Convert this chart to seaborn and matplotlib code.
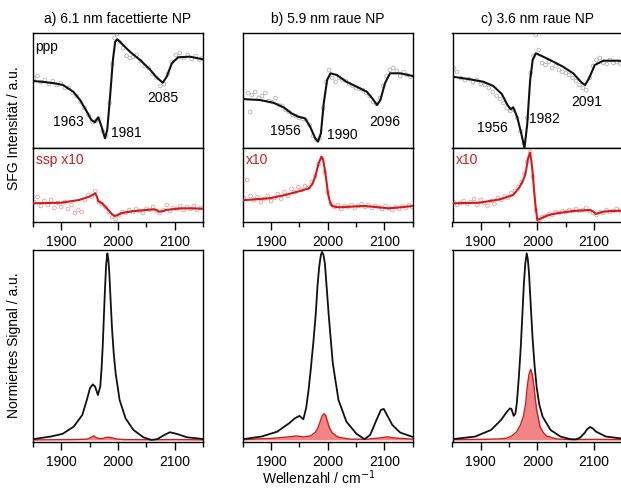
import numpy as np
import pandas as pd
import matplotlib
matplotlib.use("Agg")
import matplotlib.pyplot as plt
import seaborn as sns

# ---------------- data (wavenumber in cm^-1, intensities in a.u.) ----------------
titles = ["a) 6.1 nm facettierte NP", "b) 5.9 nm raue NP", "c) 3.6 nm raue NP"]
ssp_labels = ["ssp x10", "x10", "x10"]

# ppp fit curves
ppp_fit_x_a = [1850, 1870, 1890, 1903, 1921, 1933, 1945, 1953, 1959, 1965, 1971, 1977, 1981, 1986, 1991, 1995, 1999, 2006, 2021, 2039, 2056, 2068, 2079, 2086, 2095, 2106, 2127, 2150]
ppp_fit_y_a = [0.67, 0.66, 0.645, 0.63, 0.563, 0.48, 0.363, 0.28, 0.257, 0.307, 0.213, 0.097, 0.18, 0.513, 0.88, 1.063, 1.087, 1.047, 0.963, 0.88, 0.787, 0.707, 0.653, 0.713, 0.847, 0.907, 0.913, 0.887]
ppp_fit_x_b = [1850, 1857, 1880, 1904, 1922, 1936, 1948, 1960, 1969, 1978, 1983, 1988, 1993, 1999, 2005, 2016, 2033, 2051, 2069, 2080, 2087, 2093, 2101, 2110, 2128, 2150]
ppp_fit_y_b = [0.49, 0.487, 0.48, 0.453, 0.407, 0.347, 0.313, 0.297, 0.213, 0.097, 0.063, 0.147, 0.447, 0.68, 0.747, 0.73, 0.663, 0.613, 0.563, 0.487, 0.43, 0.48, 0.647, 0.747, 0.747, 0.72]
ppp_fit_x_c = [1850, 1881, 1904, 1922, 1937, 1947, 1953, 1957, 1964, 1972, 1977, 1982, 1987, 1991.5, 1997, 2010, 2028, 2045, 2063, 2078, 2084, 2091, 2101, 2116, 2140, 2150]
ppp_fit_y_c = [0.713, 0.687, 0.663, 0.62, 0.54, 0.43, 0.387, 0.407, 0.313, 0.13, 0.0, 0.247, 0.68, 0.88, 0.947, 0.913, 0.863, 0.813, 0.747, 0.653, 0.63, 0.697, 0.83, 0.873, 0.873, 0.87]

# ppp measured points
ppp_pts_x_a = [1852, 1858, 1864, 1871, 1878, 1885, 1892, 1899, 1906, 1913, 1920, 1927, 1934, 1941, 1948, 1955, 1961, 1967, 1973, 1979, 1985, 1990, 1994, 1998, 2003, 2009, 2015, 2021, 2027, 2033, 2040, 2047, 2054, 2061, 2068, 2075, 2081, 2088, 2095, 2102, 2109, 2116, 2123, 2130, 2137, 2144, 2149]
ppp_pts_y_a = [0.70, 0.72, 0.66, 0.68, 0.64, 0.67, 0.63, 0.65, 0.60, 0.60, 0.55, 0.52, 0.46, 0.40, 0.33, 0.26, 0.27, 0.29, 0.17, 0.12, 0.45, 0.84, 1.10, 1.14, 1.06, 1.00, 0.92, 0.90, 0.91, 0.93, 0.87, 0.82, 0.80, 0.74, 0.70, 0.62, 0.64, 0.74, 0.86, 0.93, 0.95, 0.90, 0.93, 0.89, 0.92, 0.88, 0.90]
ppp_pts_x_b = [1860, 1863, 1866, 1872, 1878, 1884, 1890, 1896, 1902, 1908, 1914, 1920, 1926, 1932, 1938, 1944, 1950, 1956, 1962, 1968, 1974, 1980, 1986, 1992, 1997, 2002, 2008, 2014, 2020, 2026, 2032, 2038, 2044, 2050, 2056, 2062, 2068, 2074, 2080, 2086, 2092, 2098, 2104, 2110, 2116, 2122, 2128, 2134, 2140, 2146]
ppp_pts_y_b = [0.55, 0.36, 0.53, 0.56, 0.50, 0.52, 0.55, 0.47, 0.46, 0.50, 0.43, 0.42, 0.38, 0.36, 0.33, 0.32, 0.30, 0.29, 0.28, 0.23, 0.12, 0.08, 0.10, 0.40, 0.66, 0.78, 0.70, 0.66, 0.70, 0.68, 0.67, 0.64, 0.62, 0.60, 0.59, 0.58, 0.55, 0.52, 0.46, 0.44, 0.50, 0.62, 0.72, 0.78, 0.80, 0.77, 0.72, 0.76, 0.73, 0.71]
ppp_pts_x_c = [1852, 1858, 1865, 1872, 1879, 1886, 1893, 1900, 1907, 1914, 1921, 1928, 1934, 1940, 1946, 1952, 1958, 1964, 1970, 1976, 1982, 1988, 1993, 1997, 2002, 2008, 2014, 2020, 2026, 2032, 2038, 2044, 2050, 2056, 2062, 2068, 2074, 2080, 2086, 2092, 2098, 2104, 2110, 2116, 2122, 2128, 2134, 2140, 2146]
ppp_pts_y_c = [0.80, 0.76, 0.70, 0.68, 0.69, 0.66, 0.68, 0.64, 0.63, 0.60, 0.56, 0.52, 0.49, 0.45, 0.40, 0.37, 0.38, 0.30, 0.17, 0.05, 0.30, 0.75, 0.92, 1.13, 0.98, 0.85, 0.83, 0.86, 0.80, 0.82, 0.78, 0.76, 0.75, 0.73, 0.70, 0.67, 0.63, 0.60, 0.58, 0.70, 0.82, 0.88, 0.90, 0.85, 0.84, 0.88, 0.85, 0.86, 0.84]

# ssp (x10) fit curves
ssp_fit_x_a = [1850, 1875, 1900, 1931, 1949, 1955, 1960, 1963, 1965, 1968, 1972, 1978, 1984, 1989, 1994, 2000, 2005, 2017, 2030, 2050, 2064, 2068, 2073, 2079, 2085, 2100, 2113, 2130, 2150]
ssp_fit_y_a = [0.187, 0.19, 0.193, 0.22, 0.253, 0.27, 0.287, 0.25, 0.21, 0.20, 0.187, 0.15, 0.113, 0.08, 0.06, 0.07, 0.087, 0.10, 0.11, 0.12, 0.127, 0.118, 0.103, 0.11, 0.12, 0.13, 0.137, 0.136, 0.133]
ssp_fit_x_b = [1850, 1856, 1897, 1925, 1953, 1967, 1973, 1978, 1984, 1989, 1992, 1995, 1998, 2000.5, 2004, 2007.5, 2015, 2023, 2045, 2065, 2085, 2107, 2125, 2150]
ssp_fit_y_b = [0.218, 0.22, 0.237, 0.27, 0.313, 0.337, 0.38, 0.453, 0.587, 0.653, 0.62, 0.52, 0.40, 0.287, 0.20, 0.16, 0.15, 0.147, 0.155, 0.16, 0.15, 0.137, 0.145, 0.16]
ssp_fit_x_c = [1850, 1898, 1934, 1957, 1966, 1972, 1977, 1980, 1983, 1986.8, 1989, 1991, 1993.5, 1996, 1999.6, 2004, 2010, 2020, 2034, 2063, 2093, 2098, 2103, 2108, 2116, 2130, 2150]
ssp_fit_y_c = [0.187, 0.193, 0.227, 0.27, 0.33, 0.387, 0.45, 0.52, 0.63, 0.693, 0.62, 0.52, 0.35, 0.187, 0.02, 0.03, 0.047, 0.07, 0.087, 0.11, 0.12, 0.105, 0.08, 0.09, 0.103, 0.11, 0.113]

# ssp measured points
ssp_pts_x_a = [1852, 1858, 1864, 1870, 1876, 1882, 1888, 1894, 1900, 1906, 1912, 1918, 1924, 1930, 1936, 1942, 1948, 1954, 1960, 1966, 1972, 1978, 1984, 1990, 1996, 2002, 2008, 2014, 2020, 2026, 2032, 2038, 2044, 2050, 2056, 2062, 2068, 2074, 2080, 2086, 2092, 2098, 2104, 2110, 2116, 2122, 2128, 2134, 2140, 2146]
ssp_pts_y_a = [0.20, 0.25, 0.16, 0.21, 0.17, 0.22, 0.14, 0.19, 0.15, 0.20, 0.13, 0.17, 0.09, 0.12, 0.10, 0.22, 0.27, 0.25, 0.31, 0.20, 0.18, 0.15, 0.10, 0.05, 0.03, 0.07, 0.10, 0.09, 0.12, 0.10, 0.13, 0.11, 0.09, 0.13, 0.12, 0.15, 0.11, 0.09, 0.12, 0.17, 0.11, 0.14, 0.13, 0.16, 0.12, 0.15, 0.13, 0.16, 0.12, 0.14]
ssp_pts_x_b = [1852, 1858, 1864, 1870, 1876, 1882, 1888, 1894, 1900, 1906, 1912, 1918, 1924, 1930, 1936, 1942, 1948, 1954, 1960, 1966, 1972, 1978, 1984, 1990, 1995, 2000, 2006, 2012, 2018, 2024, 2030, 2036, 2042, 2048, 2054, 2060, 2066, 2072, 2078, 2084, 2090, 2096, 2102, 2108, 2114, 2120, 2126, 2132, 2138, 2144, 2149]
ssp_pts_y_b = [0.24, 0.42, 0.26, 0.22, 0.25, 0.20, 0.23, 0.26, 0.21, 0.24, 0.28, 0.23, 0.30, 0.26, 0.33, 0.30, 0.35, 0.32, 0.36, 0.34, 0.40, 0.46, 0.58, 0.64, 0.50, 0.30, 0.18, 0.15, 0.17, 0.13, 0.16, 0.15, 0.17, 0.14, 0.16, 0.18, 0.15, 0.17, 0.14, 0.16, 0.15, 0.13, 0.16, 0.14, 0.12, 0.15, 0.13, 0.16, 0.14, 0.17, 0.15]
ssp_pts_x_c = [1852, 1858, 1864, 1870, 1876, 1882, 1888, 1894, 1900, 1906, 1912, 1918, 1924, 1930, 1936, 1942, 1948, 1954, 1960, 1966, 1972, 1977, 1982, 1987, 1992, 1997, 2002, 2008, 2014, 2020, 2026, 2032, 2038, 2044, 2050, 2056, 2062, 2068, 2074, 2080, 2086, 2092, 2098, 2104, 2110, 2116, 2122, 2128, 2134, 2140, 2146]
ssp_pts_y_c = [0.20, 0.17, 0.19, 0.21, 0.18, 0.20, 0.23, 0.17, 0.22, 0.19, 0.16, 0.21, 0.18, 0.24, 0.22, 0.26, 0.24, 0.29, 0.31, 0.35, 0.40, 0.48, 0.60, 0.70, 0.45, 0.12, 0.02, 0.05, 0.06, 0.08, 0.07, 0.10, 0.09, 0.11, 0.10, 0.12, 0.11, 0.13, 0.11, 0.12, 0.14, 0.11, 0.09, 0.07, 0.10, 0.09, 0.12, 0.10, 0.11, 0.13, 0.11]

# normalized signal: ppp (black) and ssp (red, filled)
norm_ppp_x_a = [1850, 1881, 1902, 1922, 1937, 1945, 1950.5, 1955.5, 1959.6, 1964.5, 1968.7, 1971, 1973, 1975, 1977, 1979, 1981.2, 1983, 1984.7, 1987, 1989.6, 1992.5, 1995.8, 2002.8, 2013.3, 2027.3, 2044.8, 2058.7, 2069.2, 2079.7, 2091.5, 2104, 2121.5, 2150]
norm_ppp_y_a = [0.004, 0.018, 0.032, 0.071, 0.133, 0.213, 0.275, 0.296, 0.284, 0.239, 0.284, 0.38, 0.496, 0.65, 0.80, 0.93, 0.993, 0.96, 0.887, 0.74, 0.585, 0.46, 0.355, 0.213, 0.115, 0.053, 0.014, 0.0, 0.004, 0.023, 0.041, 0.032, 0.014, 0.005]
norm_ssp_x_a = [1850, 1920, 1945, 1952, 1957, 1962, 1968, 1975, 1980, 1985, 1990, 1997, 2010, 2040, 2070, 2100, 2130, 2150]
norm_ssp_y_a = [0.0, 0.002, 0.004, 0.012, 0.022, 0.012, 0.006, 0.009, 0.014, 0.014, 0.011, 0.005, 0.002, 0.001, 0.001, 0.002, 0.001, 0.0]
norm_ppp_x_b = [1850, 1883, 1911, 1932, 1942, 1950, 1957, 1962, 1966, 1970, 1975, 1979, 1982, 1985, 1988, 1990, 1992.5, 1995, 1998.5, 2002, 2009, 2019, 2033, 2051, 2065, 2075, 2086, 2094, 2099, 2103, 2114, 2128, 2150]
norm_ppp_y_b = [0.004, 0.018, 0.044, 0.089, 0.115, 0.128, 0.11, 0.17, 0.26, 0.372, 0.53, 0.674, 0.82, 0.922, 0.985, 1.0, 0.985, 0.94, 0.80, 0.656, 0.408, 0.213, 0.097, 0.032, 0.004, 0.027, 0.106, 0.16, 0.165, 0.142, 0.08, 0.039, 0.016]
norm_ssp_x_b = [1850, 1900, 1930, 1945, 1958, 1970, 1978, 1983, 1987, 1990, 1993.5, 1996.5, 1999.5, 2003, 2008, 2018, 2040, 2070, 2090, 2105, 2120, 2150]
norm_ssp_y_b = [0.002, 0.008, 0.016, 0.021, 0.016, 0.022, 0.04, 0.065, 0.10, 0.127, 0.14, 0.13, 0.10, 0.065, 0.038, 0.015, 0.004, 0.004, 0.01, 0.016, 0.01, 0.004]
norm_ppp_x_c = [1850, 1890, 1918, 1935.6, 1946, 1951.5, 1954, 1958, 1961, 1963.5, 1967, 1970.5, 1973.5, 1976, 1978.5, 1981, 1983, 1985, 1988, 1991.5, 1995, 1998.4, 2003, 2009, 2023, 2040.5, 2058, 2068, 2075, 2082.5, 2088, 2093, 2098, 2103.3, 2120.8, 2150]
norm_ppp_y_c = [0.004, 0.018, 0.053, 0.106, 0.15, 0.168, 0.165, 0.128, 0.14, 0.195, 0.33, 0.496, 0.68, 0.833, 0.94, 0.993, 0.96, 0.887, 0.72, 0.532, 0.39, 0.284, 0.19, 0.124, 0.053, 0.018, 0.004, 0.003, 0.012, 0.035, 0.058, 0.069, 0.06, 0.044, 0.018, 0.007]
norm_ssp_x_c = [1850, 1900, 1930, 1945.6, 1955, 1963.3, 1970, 1975, 1979, 1982, 1985, 1988, 1991, 1993.8, 1996, 1998.6, 2004.4, 2010, 2016, 2034, 2060, 2100, 2150]
norm_ssp_y_c = [0.002, 0.003, 0.005, 0.009, 0.022, 0.044, 0.08, 0.124, 0.19, 0.284, 0.35, 0.376, 0.345, 0.284, 0.22, 0.16, 0.071, 0.04, 0.021, 0.005, 0.002, 0.003, 0.002]

# peak annotations (label, wavenumber position, height)
peak_labels_a = [("1963", 1913, 0.26), ("1981", 2014, 0.15), ("2085", 2079, 0.495)]
peak_labels_b = [("1956", 1926, 0.17), ("1990", 2025, 0.127), ("2096", 2100, 0.26)]
peak_labels_c = [("1956", 1921, 0.20), ("1982", 2012, 0.29), ("2091", 2086, 0.455)]

x_ticks_major = [1900, 2000, 2100]
x_ticks_minor = [1850, 1950, 2050, 2150]
x_range = (1850, 2150)

# ---------------- styling ----------------
sns.set_theme(style="white")
plt.rcParams["font.family"] = ["Liberation Sans", "DejaVu Sans"]
plt.rcParams["axes.linewidth"] = 1.0
plt.rcParams["axes.edgecolor"] = "black"

BLACK = "#111111"
RED = "#d01c1c"
FILL = "#f07878"
PTS_GRAY = "#b4b4b4"
PTS_RED = "#eca0a0"
FS = 10

W, H = 621, 488
fig = plt.figure(figsize=(W / 100, H / 100), dpi=100)
fig.patch.set_facecolor("white")

lefts = [33, 242.7, 452.5]
pw = 170

def add_ax(left, top, bottom):
    return fig.add_axes([left / W, 1 - bottom / H, pw / W, (bottom - top) / H])

panels = [
    (ppp_fit_x_a, ppp_fit_y_a, ppp_pts_x_a, ppp_pts_y_a, ssp_fit_x_a, ssp_fit_y_a, ssp_pts_x_a, ssp_pts_y_a,
     norm_ppp_x_a, norm_ppp_y_a, norm_ssp_x_a, norm_ssp_y_a, peak_labels_a),
    (ppp_fit_x_b, ppp_fit_y_b, ppp_pts_x_b, ppp_pts_y_b, ssp_fit_x_b, ssp_fit_y_b, ssp_pts_x_b, ssp_pts_y_b,
     norm_ppp_x_b, norm_ppp_y_b, norm_ssp_x_b, norm_ssp_y_b, peak_labels_b),
    (ppp_fit_x_c, ppp_fit_y_c, ppp_pts_x_c, ppp_pts_y_c, ssp_fit_x_c, ssp_fit_y_c, ssp_pts_x_c, ssp_pts_y_c,
     norm_ppp_x_c, norm_ppp_y_c, norm_ssp_x_c, norm_ssp_y_c, peak_labels_c),
]

def style_x(ax, labels=True):
    ax.set_xlim(*x_range)
    ax.set_xticks(x_ticks_major)
    ax.set_xticks(x_ticks_minor, minor=True)
    ax.set_yticks([])
    ax.tick_params(axis="x", which="major", direction="out", length=6, width=1.0,
                   colors="black", labelsize=FS, pad=3, bottom=True, labelbottom=labels)
    ax.tick_params(axis="x", which="minor", direction="out", length=3.5, width=1.0,
                   colors="black", bottom=True)
    ax.set_xlabel("")
    ax.set_ylabel("")
    for s in ax.spines.values():
        s.set_visible(True)
        s.set_color("black")
        s.set_linewidth(1.0)

for i, (fx, fy, px, py, sfx, sfy, spx, spy, nbx, nby, nrx, nry, plabels) in enumerate(panels):
    left = lefts[i]
    # --- ppp ---
    ax1 = add_ax(left, 33, 148)
    sns.scatterplot(x=px, y=py, ax=ax1, marker="o", s=7, facecolor="none",
                    edgecolor=PTS_GRAY, linewidth=0.6, legend=False, zorder=2)
    sns.lineplot(x=fx, y=fy, ax=ax1, color=BLACK, lw=1.5, estimator=None, zorder=3)
    ax1.set_ylim(0, 1.15)
    style_x(ax1, labels=False)
    ax1.tick_params(axis="x", which="both", bottom=False, labelbottom=False)
    ax1.set_title(titles[i], fontsize=FS, pad=7, color="black")
    for txt, xx, yy in plabels:
        ax1.text(xx, yy, txt, fontsize=FS, ha="center", va="center", color="black")
    if i == 0:
        ax1.text(0.015, 0.88, "ppp", transform=ax1.transAxes, fontsize=FS,
                 ha="left", va="center", color="black")

    # --- ssp ---
    ax2 = add_ax(left, 148, 222)
    sns.scatterplot(x=spx, y=spy, ax=ax2, marker="o", s=7, facecolor="none",
                    edgecolor=PTS_RED, linewidth=0.6, legend=False, zorder=2)
    sns.lineplot(x=sfx, y=sfy, ax=ax2, color=RED, lw=1.5, estimator=None, zorder=3)
    ax2.set_ylim(0, 0.74)
    style_x(ax2, labels=True)
    ax2.text(0.02, 0.84, ssp_labels[i], transform=ax2.transAxes, fontsize=FS,
             ha="left", va="center", color=RED)

    # --- normalized ---
    ax3 = add_ax(left, 250, 442)
    ax3.fill_between(nrx, nry, 0, color=FILL, alpha=0.9, lw=0, zorder=2)
    sns.lineplot(x=nrx, y=nry, ax=ax3, color=RED, lw=1.0, estimator=None, zorder=3)
    sns.lineplot(x=nbx, y=nby, ax=ax3, color=BLACK, lw=1.3, estimator=None, zorder=4)
    ax3.set_ylim(-0.011, 1.011)
    style_x(ax3, labels=True)

fig.text(14 / W, 1 - 128 / H, "SFG Intensität / a.u.", rotation=90, fontsize=FS,
         ha="center", va="center", color="black")
fig.text(14 / W, 1 - 345 / H, "Normiertes Signal / a.u.", rotation=90, fontsize=FS,
         ha="center", va="center", color="black")
fig.text(319 / W, 1 - 478 / H, "Wellenzahl / cm$^{-1}$", fontsize=FS,
         ha="center", va="center", color="black")

fig.savefig("out.png", dpi=100, facecolor="white")
